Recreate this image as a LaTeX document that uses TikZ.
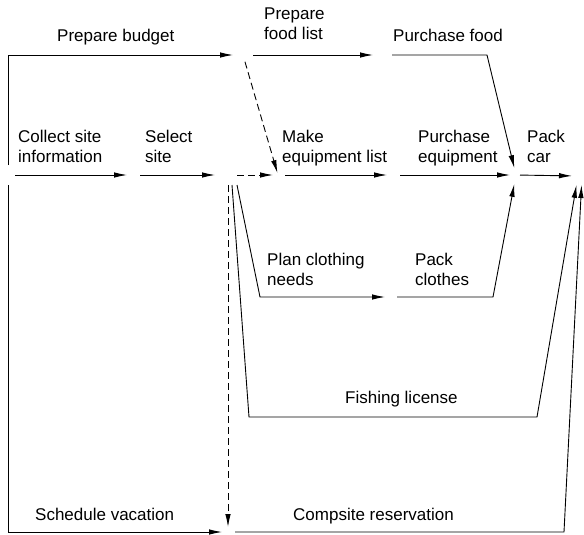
\documentclass[tikz,border=0pt]{standalone}
\usepackage{fontspec}
\setmainfont{Liberation Sans}
\usetikzlibrary{arrows.meta}
\begin{document}
\begin{tikzpicture}[x=1pt,y=-1pt,
  act/.style={draw=black, line width=0.9pt, -{Latex[length=13pt,width=5.5pt]}},
  dum/.style={act, dash pattern=on 7pt off 4pt},
  lbl/.style={anchor=base west, inner sep=0pt, align=left, font=\fontsize{17}{20}\selectfont}]
\useasboundingbox (0,0) rectangle (584,535);
% events
\coordinate (s) at (8,175);
\coordinate (a) at (133,175);
\coordinate (b) at (228,175);
\coordinate (pb) at (243,55);
\coordinate (fl) at (383,55);
\coordinate (m) at (278,175);
\coordinate (pe) at (393,175);
\coordinate (pk) at (516,175);
\coordinate (e) at (578,176);
\coordinate (pc) at (391,297);
\coordinate (r) at (228,532);
% bends
\coordinate (k1) at (487,55);
\coordinate (k2) at (260,297);
\coordinate (k3) at (493,297);
\coordinate (k4) at (249,417);
\coordinate (k5) at (537,417);
\coordinate (k6) at (564,532);
% activities
\draw[act, shorten <=10pt, shorten >=10pt] (s) |- (pb);
\draw[act, shorten <=10pt, shorten >=6pt] (s) |- (r);
\draw[act, shorten <=7pt, shorten >=6pt] (s) -- (a);
\draw[act, shorten <=7pt, shorten >=13pt] (a) -- (b);
\draw[dum, shorten <=9pt, shorten >=5pt] (b) -- (m);
\draw[dum, shorten <=7pt, shorten >=2pt] (pb) -- (m);
\draw[act, shorten <=10pt, shorten >=10pt] (pb) -- (fl);
\draw[act, shorten <=9pt, shorten >=7pt] (fl) -- (k1) -- (pk);
\draw[act, shorten <=7pt, shorten >=6pt] (m) -- (pe);
\draw[act, shorten <=7pt, shorten >=6pt] (pe) -- (pk);
\draw[act, shorten <=4pt, shorten >=6pt] (pk) -- (e);
\draw[act, shorten >=6pt] ([shift={(9,10)}]b) -- (k2) -- (pc);
\draw[act, shorten <=6pt, shorten >=9pt] (pc) -- (k3) -- (pk);
\draw[act, shorten >=9pt] ([shift={(4,10)}]b) -- (k4) -- (k5) -- (e);
\draw[act, shorten <=7pt, shorten >=9pt] (r) -- (k6) -- ([shift={(4,0)}]e);
\draw[dum, shorten <=10pt, shorten >=5pt] (b) -- (r);
% labels (anchor = baseline of last line)
\node[lbl] (t1) at (57,42) {Prepare budget};
\node[lbl] (t2) at (264,40) {Prepare\\food list};
\node[lbl] (t3) at (393,42) {Purchase food};
\node[lbl] (t4) at (18,162) {Collect site\\information};
\node[lbl] (t5) at (145,162) {Select\\site};
\node[lbl] (t6) at (282,162) {Make\\equipment list};
\node[lbl] (t7) at (418,162) {Purchase\\equipment};
\node[lbl] (t8) at (527,162) {Pack\\car};
\node[lbl] (t9) at (267,285) {Plan clothing\\needs};
\node[lbl] (t10) at (415,285) {Pack\\clothes};
\node[lbl] (t11) at (345,403) {Fishing license};
\node[lbl] (t12) at (35,520) {Schedule vacation};
\node[lbl] (t13) at (293,520) {Compsite reservation};
\end{tikzpicture}
\end{document}
